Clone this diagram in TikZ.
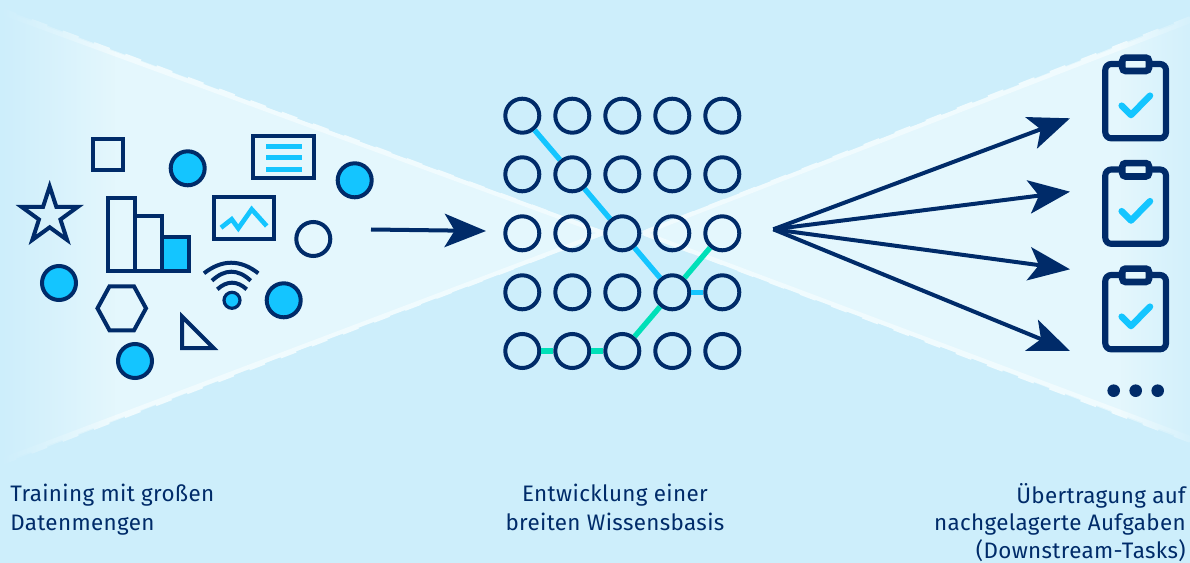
\documentclass[tikz,border=0pt]{standalone}
\usepackage{fontspec}
\setmainfont[LetterSpace=1.6]{Fira Sans}
\usetikzlibrary{arrows.meta,fadings}
\definecolor{bgc}{HTML}{CDEEFB}
\definecolor{lite}{HTML}{E4F7FD}
\definecolor{edgec}{HTML}{F0FBFE}
\definecolor{navy}{HTML}{002B69}
\definecolor{cyanc}{HTML}{14C5FF}
\definecolor{greenc}{HTML}{00E0B8}
\tikzset{
  ol/.style={draw=navy,line width=3pt,miter limit=20},
  ring/.style={circle,draw=navy,line width=3pt,minimum size=25.5pt,inner sep=0pt},
  dotfill/.style={ring,fill=cyanc},
  cyanline/.style={draw=cyanc,line width=3.5pt},
  linkblue/.style={draw=cyanc,line width=4pt},
  linkgreen/.style={draw=greenc,line width=4pt},
  bluebar/.style={draw=cyanc,line width=3.75pt},
  band/.style={draw=edgec,line width=3.2pt},
  stepband/.style={draw=edgec,line width=3.2pt,dash pattern=on 12.5pt off 12.5pt},
  bigarrow/.style={draw=navy,line width=3pt,-{Stealth[length=31pt,width=25pt,inset=7.5pt]}},
  label/.style={text=navy,font=\fontsize{16.8}{21.2}\selectfont,inner sep=0pt},
  labeltight/.style={text=navy,font=\fontsize{16.8}{20.6}\selectfont,inner sep=0pt},
  board/.pic={
    \draw[draw=navy,line width=4.6pt,rounded corners=4.5pt] (1105.3,64) rectangle (1166,138.3);
    \draw[draw=navy,fill=lite,line width=5pt,rounded corners=2.5pt] (1122.3,57.6) rectangle (1149,71);
    \draw[draw=cyanc,line width=4.9pt,line cap=round,line join=round] (1121.7,105.7) -- (1131,115) -- (1150,95.7);
  }
}
\begin{document}
\begin{tikzpicture}[x=0.75pt,y=-0.75pt]
\useasboundingbox (0,0) rectangle (1190,563);
\fill[bgc] (0,0) rectangle (1190,563);
% wedges
\coordinate (LT) at (0,8);
\coordinate (LB) at (0,465);
\coordinate (LA) at (603,233);
\coordinate (RT) at (1190,17);
\coordinate (RB) at (1190,442);
\coordinate (RA) at (643,233);
\fill[lite] (LT) -- (LA) -- (LB) -- cycle;
\fill[lite] (RT) -- (RA) -- (RB) -- cycle;
\draw[band] ([yshift=-3pt]LT) -- ([yshift=0pt]LA);
\draw[band] ([yshift=3pt]LB) -- ([yshift=0pt]LA);
\draw[band] ([yshift=-3pt]RT) -- ([yshift=0pt]RA);
\draw[band] ([yshift=3pt]RB) -- ([yshift=0pt]RA);
\draw[stepband] ([yshift=-1pt]LT) -- (LA);
\draw[stepband] ([yshift=1pt]LB) -- (LA);
\draw[stepband] ([yshift=-1pt]RT) -- (RA);
\draw[stepband] ([yshift=1pt]RB) -- (RA);
\fill[bgc,path fading=east] (0,0) rectangle (115,563);
\fill[bgc,path fading=west,fill opacity=.75] (1120,0) rectangle (1190,563);
% left shapes
\draw[ol] (93,139.3) rectangle (123.3,170);
\node[dotfill] (d1) at (187.7,168.3) {};
\draw[ol] (253.3,136) rectangle (313.7,178.3);
\draw[bluebar] (266,146.5) -- (302,146.5);
\draw[bluebar] (266,157.5) -- (302,157.5);
\draw[bluebar] (266,169.5) -- (302,169.5);
\node[dotfill] (d2) at (354.7,180.3) {};
\draw[ol] (49.7,186.5) -- (56.34,206.86) -- (77.76,206.88) -- (60.45,219.49) -- (67.04,239.87) -- (49.7,227.3) -- (32.36,239.87) -- (38.95,219.49) -- (21.64,206.88) -- (43.06,206.86) -- cycle;
\draw[ol] (108,198) rectangle (135.3,271.3);
\draw[ol] (135.3,216) rectangle (162,271.3);
\draw[ol,fill=cyanc] (162,237) rectangle (189.3,271.3);
\draw[ol] (213.7,197) rectangle (274,239.3);
\draw[cyanline] (221,227.7) -- (231.7,219.3) -- (238.3,228.3) -- (251.7,209.3) -- (266.7,226);
\node[ring] (c1) at (313.3,239) {};
\node[dotfill] (d3) at (59,283) {};
\draw[ol] (97.5,308.3) -- (109.5,286.3) -- (134,286.3) -- (146,308.3) -- (134,330.3) -- (109.5,330.3) -- cycle;
\draw[ol] (182,316.5) -- (213.5,348) -- (182,348) -- cycle;
\node[dotfill] (d4) at (135,361) {};
\node[dotfill] (d5) at (283.7,300.3) {};
\node[circle,draw=navy,fill=cyanc,line width=2.4pt,minimum size=12pt,inner sep=0pt] (wd) at (232,300.3) {};
\draw[ol] (204,273.3) .. controls (222.1,259.2) and (240.2,259.2) .. (258.3,273.3);
\draw[ol] (212,280.7) .. controls (224.9,268.7) and (237.8,268.7) .. (250.7,280.7);
\draw[ol] (217.3,289.3) .. controls (227.1,280.5) and (236.9,280.5) .. (246.7,289.3);
% grid
\foreach \c/\x in {0/522.3,1/572.3,2/622.3,3/672.3,4/722.3}
  \foreach \r/\y in {0/115.7,1/174.3,2/233.3,3/292.3,4/351}
    \node[ring] (g\c\r) at (\x,\y) {};
\draw[linkblue] (g00) -- (g11);
\draw[linkblue] (g11) -- (g22);
\draw[linkblue] (g22) -- (g33);
\draw[linkblue] (g33) -- (g43);
\draw[linkgreen] (g04) -- (g14);
\draw[linkgreen] (g14) -- (g24);
\draw[linkgreen] (g24) -- (g33);
\draw[linkgreen] (g33) -- (g42);
% arrows
\coordinate (inS) at (371,229.5);
\coordinate (inE) at (486,231);
\draw[bigarrow] (inS) -- (inE);
\coordinate (fan) at (773.3,229.3);
\coordinate (t1) at (1070,118.3);
\coordinate (t2) at (1070,191.7);
\coordinate (t3) at (1070,269.3);
\coordinate (t4) at (1070,351);
\draw[bigarrow] (fan) -- (t1);
\draw[bigarrow] (fan) -- (t2);
\draw[bigarrow] (fan) -- (t3);
\draw[bigarrow] (fan) -- (t4);
% clipboards
\pic at (0,0) {board};
\pic at (0,105.5) {board};
\pic at (0,211) {board};
\fill[navy] (1113.7,390.7) circle (6.3);
\fill[navy] (1135.7,390.7) circle (6.3);
\fill[navy] (1157.7,390.7) circle (6.3);
% labels
\node[label,align=left,anchor=north west] (l1) at (10,484) {Training mit großen\\Datenmengen};
\node[label,align=center,anchor=north] (l2) at (615,484) {Entwicklung einer\\breiten Wissensbasis};
\node[labeltight,align=right,anchor=north east] (l3) at (1186,483) {Übertragung auf\\nachgelagerte Aufgaben\\(Downstream-Tasks)};
\end{tikzpicture}
\end{document}
